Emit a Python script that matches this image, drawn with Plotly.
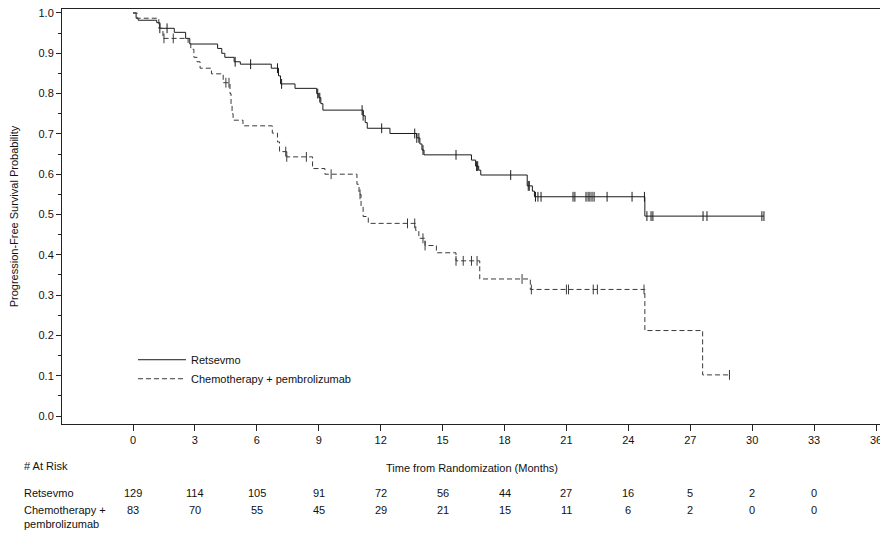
import plotly.graph_objects as go

# ---- data ----
ret_times = [0, 0.15, 0.25, 1.15, 1.3, 2.0, 2.55, 2.75, 4.1, 4.3, 4.45, 4.9, 5.2, 6.7, 7.05, 7.15, 7.85,
             8.9, 9.0, 9.1, 9.2, 11.15, 11.25, 11.35, 12.45, 13.75, 13.9, 14.0, 14.1,
             16.4, 16.6, 16.75, 16.85, 19.1, 19.35, 19.45, 24.8, 30.57]
ret_surv = [1.0, 0.987, 0.982, 0.976, 0.962, 0.952, 0.937, 0.923, 0.912, 0.90, 0.89, 0.879, 0.873, 0.863, 0.844, 0.824, 0.813,
            0.80, 0.79, 0.775, 0.759, 0.745, 0.728, 0.714, 0.701, 0.69, 0.675, 0.66, 0.648,
            0.635, 0.62, 0.61, 0.598, 0.571, 0.558, 0.544, 0.496, 0.496]
ret_cens = [1.3, 1.65, 4.95, 5.7, 7.0, 7.2, 8.95, 9.05, 11.1, 11.15, 12.05, 13.65, 13.75, 13.85, 14.05,
            15.65, 16.65, 16.7, 18.3, 19.15, 19.2, 19.5, 19.62, 19.77, 21.32, 21.41, 21.95, 22.05, 22.14,
            22.24, 22.34, 22.97, 24.18, 24.78, 24.9, 25.1, 25.19, 27.62, 27.81, 30.47, 30.57]

chemo_times = [0, 0.2, 1.25, 1.45, 2.67, 2.8, 2.95, 3.1, 3.25, 3.8, 4.37, 4.7, 4.75, 4.8, 4.85, 5.33,
               6.75, 7.0, 7.1, 7.45, 8.7, 9.3, 10.85, 10.95, 11.05, 11.15, 11.4, 13.7, 13.85, 14.15,
               14.7, 15.65, 16.8, 19.25, 24.8, 27.6, 28.9]
chemo_surv = [1.0, 0.987, 0.962, 0.937, 0.925, 0.91, 0.89, 0.879, 0.863, 0.849, 0.827, 0.80, 0.77, 0.75, 0.734, 0.72,
              0.702, 0.68, 0.656, 0.643, 0.614, 0.60, 0.575, 0.55, 0.52, 0.495, 0.478, 0.46, 0.441, 0.423,
              0.405, 0.385, 0.34, 0.314, 0.212, 0.102, 0.102]
chemo_cens = [1.5, 1.95, 4.5, 4.65, 7.4, 7.45, 8.4, 9.6, 11.0, 13.3, 13.65, 14.05, 14.15, 15.65, 16.0,
              16.4, 16.67, 18.85, 19.3, 21.0, 21.1, 22.3, 22.5, 24.76, 28.9]

risk_times = [0, 3, 6, 9, 12, 15, 18, 21, 24, 27, 30, 33]
risk_ret = [129, 114, 105, 91, 72, 56, 44, 27, 16, 5, 2, 0]
risk_chemo = [83, 70, 55, 45, 29, 21, 15, 11, 6, 2, 0, 0]

x_ticks = list(range(0, 37, 3))
y_ticks = [i / 10 for i in range(11)]

FONT = "Liberation Sans, Arial, sans-serif"


def surv_at(times, surv, t):
    s = surv[0]
    for ti, si in zip(times, surv):
        if ti <= t:
            s = si
        else:
            break
    return s


fig = go.Figure()

for name, times, surv, cens, dash, col in [
    ("Retsevmo", ret_times, ret_surv, ret_cens, "solid", "#1a1a1a"),
    ("Chemotherapy + pembrolizumab", chemo_times, chemo_surv, chemo_cens, "5px,3px", "#3a3a3a"),
]:
    fig.add_trace(go.Scatter(
        x=times, y=surv, mode="lines", name=name, legendgroup=name,
        line=dict(shape="hv", color=col, width=1, dash=dash),
        hoverinfo="skip",
    ))
    fig.add_trace(go.Scatter(
        x=cens, y=[surv_at(times, surv, c) for c in cens], mode="markers", name=name,
        legendgroup=name, showlegend=False,
        marker=dict(symbol="line-ns", size=7, color=col, line=dict(width=1, color=col)),
        hoverinfo="skip",
    ))

# page has an 8px body margin: figure spans page (8,8)-(888,537)
fig.update_layout(
    width=880, height=529,
    margin=dict(l=54, r=6, t=1, b=113, autoexpand=False),
    paper_bgcolor="white", plot_bgcolor="white",
    font=dict(family=FONT, size=11, color="#111"),
    showlegend=True,
    legend=dict(x=0.0866, y=0.132, xanchor="left", yanchor="middle", itemwidth=48,
                bgcolor="rgba(0,0,0,0)", font=dict(size=11), tracegroupgap=2, traceorder="normal"),
    xaxis=dict(range=[-3.44, 36.29], tickvals=x_ticks, ticktext=[str(v) for v in x_ticks],
               automargin=False, ticklabeloverflow="allow",
               showgrid=False, zeroline=False, showline=True, linecolor="#222", linewidth=1,
               mirror=True, ticks="outside", ticklen=6, tickcolor="#222",
               title=dict(text="Time from Randomization (Months)", standoff=19, font=dict(size=11))),
    yaxis=dict(range=[-0.01985, 1.0099], tickvals=y_ticks, ticktext=[f"{v:.1f}" for v in y_ticks],
               automargin=False, ticklabeloverflow="allow",
               showgrid=False, zeroline=False, showline=True, linecolor="#222", linewidth=1,
               mirror=True, ticks="outside", ticklen=5, tickcolor="#222",
               minor=dict(tickvals=[v + 0.05 for v in y_ticks[:-1]], ticks="outside", ticklen=3, tickcolor="#222"),
               title=dict(text="Progression-Free Survival Probability", standoff=25, font=dict(size=11))),
)

H = 415.0  # plot height in px for paper-coordinate conversion


def py(pix):
    return (424 - pix) / H


ann = []
ann.append(dict(text="# At Risk", x=-0.0488, y=py(466), xref="paper", yref="paper",
                xanchor="left", yanchor="middle", showarrow=False, font=dict(size=11)))
ann.append(dict(text="Retsevmo", x=-0.0488, y=py(493), xref="paper", yref="paper",
                xanchor="left", yanchor="middle", showarrow=False, font=dict(size=11)))
ann.append(dict(text="Chemotherapy +<br>pembrolizumab", x=-0.0488, y=py(502), xref="paper", yref="paper",
                xanchor="left", yanchor="top", showarrow=False, align="left", font=dict(size=11)))
for t, r, c in zip(risk_times, risk_ret, risk_chemo):
    ann.append(dict(text=str(r), x=t, y=py(493), xref="x", yref="paper",
                    xanchor="center", yanchor="middle", showarrow=False, font=dict(size=11)))
    ann.append(dict(text=str(c), x=t, y=py(510), xref="x", yref="paper",
                    xanchor="center", yanchor="middle", showarrow=False, font=dict(size=11)))
fig.update_layout(annotations=ann)

fig.write_html("out.html")
